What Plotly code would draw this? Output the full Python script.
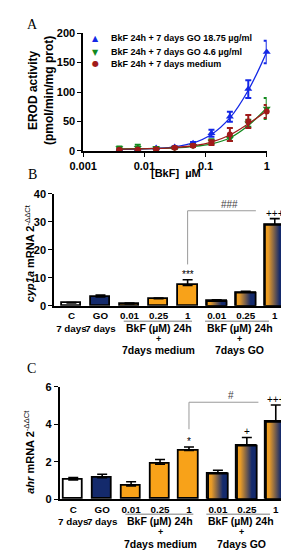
import plotly.graph_objects as go

W, H = 289, 550

# ---------------- Panel A data ----------------
conc = [0.0039, 0.0078, 0.0156, 0.0313, 0.0625, 0.125, 0.25, 0.5, 1.0]
series_names = ["BkF 24h + 7 days GO 18.75 µg/ml",
                "BkF 24h + 7 days GO 4.6 µg/ml",
                "BkF 24h + 7 days medium"]
erod_go1875 = [2, 2.5, 5, 6.5, 13, 30, 58, 105, 168]
err_go1875 = [1, 1, 1, 1.5, 2, 6, 8.5, 15, 19]
erod_go46 = [5, 5.5, 4.5, 5, 9, 16, 21, 47, 72]
err_go46 = [2.5, 5, 2, 1.5, 2, 4, 4, 6, 18]
erod_med = [2, 2.5, 3, 5.5, 9, 14, 28, 50, 67]
err_med = [1, 1, 1, 1.5, 2, 4, 11, 11, 11]
fit_go1875 = [2.5, 3.2, 4.5, 7, 13.5, 28, 56, 103, 168]
fit_go46 = [3.5, 3.8, 4.3, 5.3, 7.5, 12, 22, 43, 73]
fit_med = [3, 3.5, 4.3, 5.8, 8.8, 15, 27, 46, 68]

# ---------------- Panels B / C data ----------------
categories = ["C", "GO", "0.01", "0.25", "1", "0.01", "0.25", "1"]
sublabels = ["7 days", "7 days", "", "", "", "", "", ""]
group_names = ["7days medium", "7days GO"]
cyp1a = [1.0, 3.2, 0.7, 2.5, 7.3, 1.7, 4.7, 29.0]
cyp1a_err = [0.15, 0.6, 0.25, 0.3, 2.0, 0.45, 0.5, 2.2]
ahr = [1.03, 1.14, 0.71, 1.87, 2.6, 1.37, 2.86, 4.12]
ahr_err = [0.12, 0.19, 0.22, 0.25, 0.18, 0.17, 0.43, 0.9]
cyp1a_marks = {4: "***", 7: "+++"}
ahr_marks = {4: "*", 6: "+", 7: "+++"}

# ---------------- styles ----------------
ORANGE = "#F8A219"
NAVY = "#142A6C"
bar_style = ["white", NAVY, ORANGE, ORANGE, ORANGE, "grad", "grad", "grad"]
FONT = "Liberation Sans, Arial, sans-serif"
SERIF = "Liberation Serif, Times New Roman, serif"
BLUE, GREEN, RED = "#1428E6", "#128A1E", "#A01A1A"


def py(p):  # pixel row -> paper y
    return 1 - p / H


def px(p):  # pixel col -> paper x
    return p / W


fig = go.Figure()

# ---------- Panel A ----------
for name, vals, err, fit, col, sym, sz in [
    (series_names[0], erod_go1875, err_go1875, fit_go1875, BLUE, "triangle-up", 7),
    (series_names[1], erod_go46, err_go46, fit_go46, GREEN, "triangle-down", 7),
    (series_names[2], erod_med, err_med, fit_med, RED, "circle", 6),
]:
    fig.add_trace(go.Scatter(x=conc, y=fit, mode="lines", line=dict(color=col, width=1.3, shape="spline"),
                             xaxis="x", yaxis="y", showlegend=False, hoverinfo="skip", cliponaxis=False))
    fig.add_trace(go.Scatter(x=conc, y=vals, mode="markers", name=name,
                             marker=dict(color=col, symbol=sym, size=sz),
                             error_y=dict(type="data", array=err, color=col, thickness=2, width=3),
                             xaxis="x", yaxis="y", showlegend=False, cliponaxis=False))

# ---------- Bar panels ----------
BW = 0.68


def add_bars(vals, errs, xa, ya):
    idx = list(range(len(vals)))
    colors = [("rgba(0,0,0,0)" if s == "grad" else s) for s in bar_style]
    fig.add_trace(go.Bar(x=idx, y=vals, width=BW, xaxis=xa, yaxis=ya,
                         marker=dict(color=colors, line=dict(color="black", width=1.8)),
                         error_y=dict(type="data", symmetric=False, array=errs,
                                      arrayminus=[0] * len(vals), color="black",
                                      thickness=1.6, width=5),
                         showlegend=False))
    for i, (v, s) in enumerate(zip(vals, bar_style)):
        if s != "grad":
            continue
        fig.add_trace(go.Scatter(
            x=[i - BW / 2, i - BW / 2, i + BW / 2, i + BW / 2, i - BW / 2],
            y=[0, v, v, 0, 0], mode="lines", fill="toself",
            fillgradient=dict(type="horizontal",
                              colorscale=[[0, ORANGE], [0.18, "#E69A28"], [0.75, NAVY], [1, NAVY]]),
            line=dict(color="black", width=1.8), xaxis=xa, yaxis=ya,
            showlegend=False, hoverinfo="skip"))


add_bars(cyp1a, cyp1a_err, "x2", "y2")
add_bars(ahr, ahr_err, "x3", "y3")

ticktext = [(c + "<br>" + s) if s else c for c, s in zip(categories, sublabels)]

axis_common = dict(showline=True, linecolor="black", linewidth=1.5, showgrid=False,
                   zeroline=False, tickcolor="black", ticklen=4,
                   tickfont=dict(family=FONT, size=11, color="black", weight="bold"))
bar_xfont = dict(family=FONT, size=9.8, color="black", weight="bold")

fig.update_layout(
    width=W, height=H, margin=dict(l=0, r=0, t=0, b=0),
    paper_bgcolor="white", plot_bgcolor="rgba(0,0,0,0)", bargap=0,
    xaxis=dict(type="log", range=[-3, 0], domain=[px(65), px(260)], anchor="y",
               tickvals=[0.001, 0.01, 0.1, 1], ticktext=["0.001", "0.01", "0.1", "1"],
               ticks="outside", tickangle=0, **axis_common),
    yaxis=dict(range=[0, 200], domain=[py(140), py(19.5)], anchor="x",
               tickvals=[0, 50, 100, 150, 200], ticks="outside", **axis_common),
    xaxis2=dict(range=[-0.6, 7.5], domain=[px(34), px(284)], anchor="y2",
                tickvals=list(range(8)), ticktext=ticktext, ticks="", tickangle=0,
                **{**axis_common, "tickfont": bar_xfont}),
    yaxis2=dict(range=[0, 40], domain=[py(298.3), py(184)], anchor="x2",
                tickvals=[0, 10, 20, 30, 40], ticks="outside", **axis_common),
    xaxis3=dict(range=[-0.47, 7.5], domain=[px(40), px(285)], anchor="y3",
                tickvals=list(range(8)), ticktext=ticktext, ticks="", tickangle=0,
                **{**axis_common, "tickfont": bar_xfont}),
    yaxis3=dict(range=[0, 6], domain=[py(496), py(381)], anchor="x3",
                tickvals=[0, 2, 4, 6], ticks="outside", **axis_common),
)

ann = []
# Panel letters
for letter, cx, cy in [("A", 11, 11), ("B", 11, 164), ("C", 10, 362)]:
    ann.append(dict(text=letter, x=px(cx), y=py(cy), xref="paper", yref="paper",
                    xanchor="center", yanchor="middle", showarrow=False,
                    font=dict(family=SERIF, size=14, color="black")))

# Panel A titles
ann.append(dict(text="<b>EROD activity<br>(pmol/min/mg prot)</b>", x=px(21), y=py(78),
                xref="paper", yref="paper", textangle=-90, showarrow=False,
                xanchor="center", yanchor="middle",
                font=dict(family=FONT, size=12, color="black")))
ann.append(dict(text="<b>[BkF]  µM</b>", x=px(164), y=py(163), xref="paper", yref="paper",
                showarrow=False, xanchor="center", yanchor="middle",
                font=dict(family=FONT, size=11, color="black")))
# Panel A legend
for name, sym, col, cy in [(series_names[0], "▲", BLUE, 25), (series_names[1], "▼", GREEN, 39),
                           (series_names[2], "●", RED, 51)]:
    ann.append(dict(text=sym, x=px(78), y=py(cy), xref="paper", yref="paper", showarrow=False,
                    xanchor="center", yanchor="middle", font=dict(family="DejaVu Sans", size=8, color=col)))
    ann.append(dict(text="<b>" + name + "</b>", x=px(92), y=py(cy), xref="paper", yref="paper",
                    showarrow=False, xanchor="left", yanchor="middle",
                    font=dict(family=FONT, size=9, color="black")))

# Y titles panels B and C
ann.append(dict(text="<b><i>cyp1a</i> mRNA 2</b><sup>-ΔΔCt</sup>", x=px(8), y=py(245),
                xref="paper", yref="paper", textangle=-90, showarrow=False,
                xanchor="center", yanchor="middle", font=dict(family=FONT, size=11, color="black")))
ann.append(dict(text="<b><i>ahr</i> mRNA 2</b><sup>-ΔΔCt</sup>", x=px(8), y=py(448),
                xref="paper", yref="paper", textangle=-90, showarrow=False,
                xanchor="center", yanchor="middle", font=dict(family=FONT, size=11, color="black")))

shapes = []
# group labels under bars
for xa, rows in [("x2", (320.5, 332, 343)), ("x3", (518, 530, 541.5))]:
    line_y = rows[0] - 6.5
    for (x0, x1), gx, gname in [((1.8, 4.15), 3.0, group_names[0]), ((4.6, 6.8), 5.8, group_names[1])]:
        shapes.append(dict(type="line", xref=xa, yref="paper", x0=x0, x1=x1,
                           y0=py(line_y), y1=py(line_y), line=dict(color="#A8A8A8", width=1.5)))
        for t, r, fs in zip(["BkF (µM) 24h", "+", gname], rows, [10.5, 9, 10.5]):
            ann.append(dict(text="<b>" + t + "</b>", x=gx, y=py(r), xref=xa, yref="paper",
                            showarrow=False, xanchor="center", yanchor="middle",
                            font=dict(family=FONT, size=fs, color="black")))

# significance marks
for xa, ya, vals, errs, marks in [("x2", "y2", cyp1a, cyp1a_err, cyp1a_marks),
                                  ("x3", "y3", ahr, ahr_err, ahr_marks)]:
    for i, m in marks.items():
        ann.append(dict(text=m, x=i, y=vals[i] + errs[i], xref=xa, yref=ya, showarrow=False,
                        xanchor="center", yanchor="bottom", yshift=-2,
                        font=dict(family=FONT, size=10, color="black")))

# brackets
for xa, ya, yb, yt, xr, lab in [("x2", "y2", 14.8, 34.0, 6.35, "###"), ("x3", "y3", 3.73, 5.17, 6.4, "#")]:
    shapes.append(dict(type="line", xref=xa, yref=ya, x0=4, x1=4, y0=yb, y1=yt,
                       line=dict(color="#9A9A9A", width=1)))
    shapes.append(dict(type="line", xref=xa, yref=ya, x0=4, x1=xr, y0=yt, y1=yt,
                       line=dict(color="#9A9A9A", width=1)))
    ann.append(dict(text=lab, x=5.45, y=yt, xref=xa, yref=ya, showarrow=False,
                    xanchor="center", yanchor="bottom", yshift=-1,
                    font=dict(family=FONT, size=10, color="#444444")))

fig.update_layout(annotations=ann, shapes=shapes)
fig.write_html("out.html")
